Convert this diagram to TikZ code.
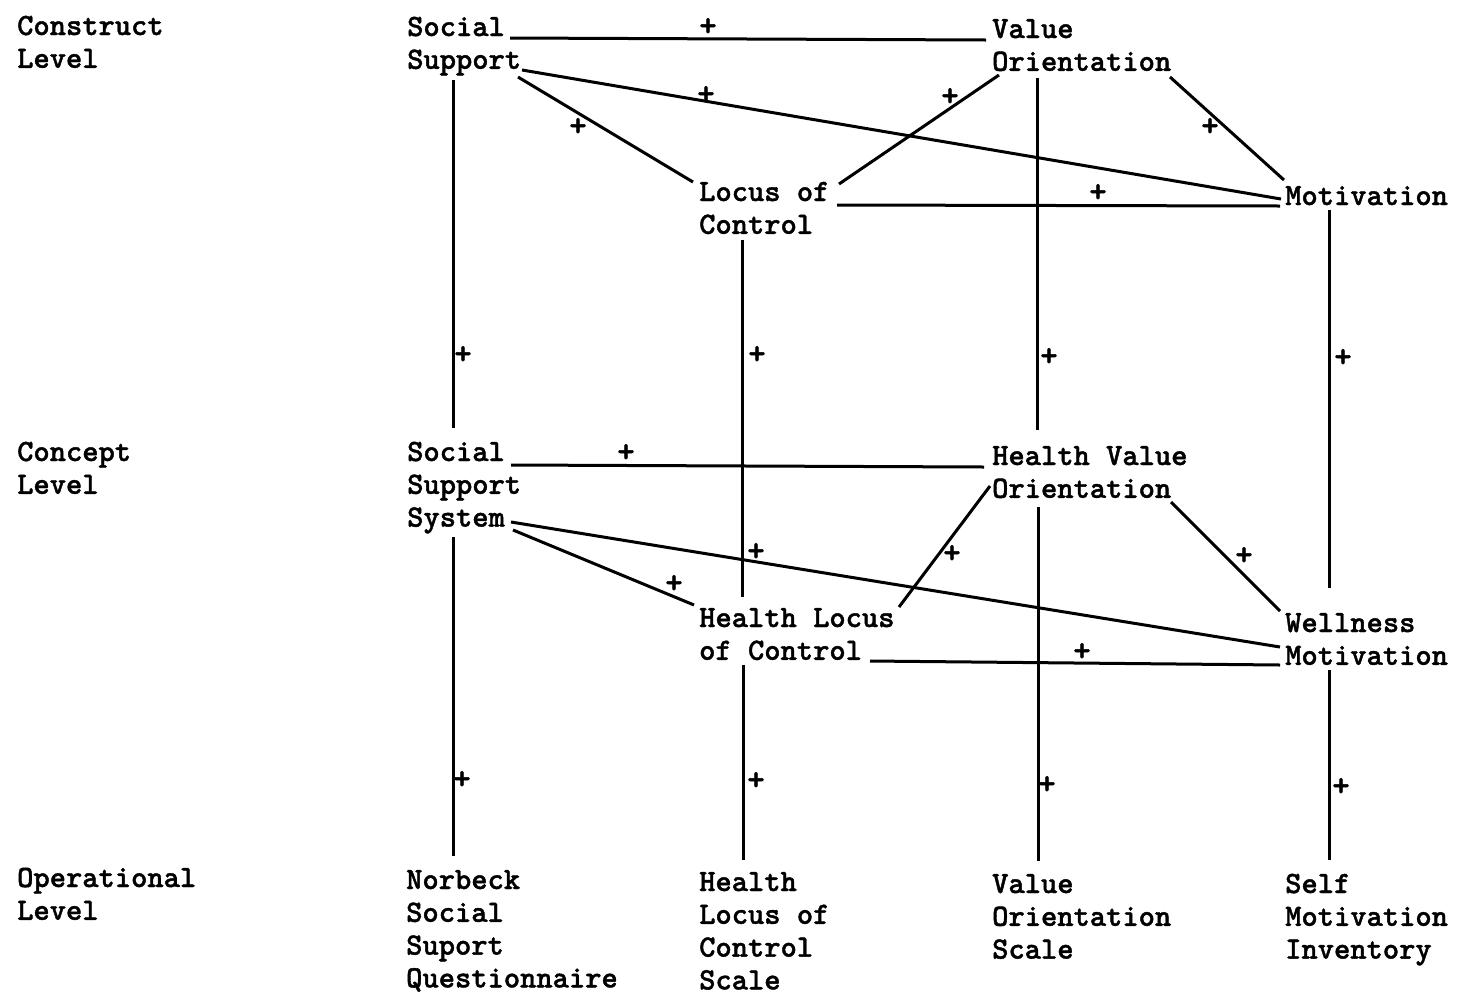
\documentclass[tikz,border=0pt]{standalone}
\usepackage{fontspec}
\newfontfamily\tw{lmmonolt10-bold.otf}[FakeBold=1.3]
\newcommand\ml[1]{\begin{tabular}[t]{@{}l@{}}#1\end{tabular}}
\begin{document}
\begin{tikzpicture}[x=1pt,y=-1pt,
  lbl/.style={anchor=base west,inner sep=0pt,font=\fontsize{31}{32.8}\selectfont\tw},
  plus/.style={inner sep=0pt,font=\fontsize{33}{34}\selectfont\tw},
  conn/.style={line width=3pt}]
\useasboundingbox[fill=white] (0,0) rectangle (1457,994);
% level labels
\node[lbl] (L1) at (17,35) {\ml{Construct\\Level}};
\node[lbl] (L2) at (17,461) {\ml{Concept\\Level}};
\node[lbl] (L3) at (17,887) {\ml{Operational\\Level}};
% construct level
\node[lbl] (ss) at (407,36) {\ml{Social\\Support}};
\node[lbl] (vo) at (992,38) {\ml{Value\\Orientation}};
\node[lbl] (lc) at (699,201) {\ml{Locus of\\Control}};
\node[lbl] (mo) at (1285,205) {\ml{Motivation}};
% concept level
\node[lbl] (sss) at (407,461) {\ml{Social\\Support\\System}};
\node[lbl] (hvo) at (992,465) {\ml{Health Value\\Orientation}};
\node[lbl] (hlc) at (699,627) {\ml{Health Locus\\of Control}};
\node[lbl] (wm) at (1285,632) {\ml{Wellness\\Motivation}};
% operational level
\node[lbl] (nb) at (406,889) {\ml{Norbeck\\Social\\Suport\\Questionnaire}};
\node[lbl] (hl) at (699,891) {\ml{Health\\Locus of\\Control\\Scale}};
\node[lbl] (vs) at (992,893) {\ml{Value\\Orientation\\Scale}};
\node[lbl] (sm) at (1285,893) {\ml{Self\\Motivation\\Inventory}};
% construct connectors
\draw[conn] ([shift={(103,2)}]ss.base west) -- ([shift={(-6,2)}]vo.base west);
\draw[conn] ([shift={(115,34)}]ss.base west) -- ([shift={(-4,-6)}]mo.base west);
\draw[conn] ([shift={(111,41)}]ss.base west) -- ([shift={(-6,-19)}]lc.base west);
\draw[conn] ([shift={(7,37)}]vo.base west) -- ([shift={(140,-17)}]lc.base west);
\draw[conn] ([shift={(178,39)}]vo.base west) -- ([shift={(-1,-25)}]mo.base west);
\draw[conn] ([shift={(138,4)}]lc.base west) -- ([shift={(-5,1)}]mo.base west);
% construct to concept
\draw[conn] ([shift={(46,44)}]ss.base west) -- ([shift={(46,-33)}]sss.base west);
\draw[conn] ([shift={(43,39)}]lc.base west) -- ([shift={(43,-30)}]hlc.base west);
\draw[conn] ([shift={(45,40)}]vo.base west) -- ([shift={(45,-35)}]hvo.base west);
\draw[conn] ([shift={(44,5)}]mo.base west) -- ([shift={(44,-44)}]wm.base west);
% concept connectors
\draw[conn] ([shift={(104,4)}]sss.base west) -- ([shift={(-8,2)}]hvo.base west);
\draw[conn] ([shift={(104,61)}]sss.base west) -- ([shift={(-5,15)}]wm.base west);
\draw[conn] ([shift={(106,69)}]sss.base west) -- ([shift={(-5,-22)}]hlc.base west);
\draw[conn] ([shift={(-2,21)}]hvo.base west) -- ([shift={(200,-20)}]hlc.base west);
\draw[conn] ([shift={(179,37)}]hvo.base west) -- ([shift={(-5,-21)}]wm.base west);
\draw[conn] ([shift={(171,34)}]hlc.base west) -- ([shift={(-5,33)}]wm.base west);
% concept to operational
\draw[conn] ([shift={(46,76)}]sss.base west) -- ([shift={(47,-33)}]nb.base west);
\draw[conn] ([shift={(44,38)}]hlc.base west) -- ([shift={(44,-31)}]hl.base west);
\draw[conn] ([shift={(46,42)}]hvo.base west) -- ([shift={(46,-32)}]vs.base west);
\draw[conn] ([shift={(44,38)}]wm.base west) -- ([shift={(44,-33)}]sm.base west);
% plus signs
\node[plus] (p1) at (708,27) {+};
\node[plus] (p2) at (706,95) {+};
\node[plus] (p3) at (578,127) {+};
\node[plus] (p4) at (950,97) {+};
\node[plus] (p5) at (1210,127) {+};
\node[plus] (p6) at (1098,193) {+};
\node[plus] (p7) at (463,355) {+};
\node[plus] (p8) at (757,355) {+};
\node[plus] (p9) at (1049,357) {+};
\node[plus] (p10) at (1343,358) {+};
\node[plus] (p11) at (626,453) {+};
\node[plus] (p12) at (756,552) {+};
\node[plus] (p13) at (674,584) {+};
\node[plus] (p14) at (952,554) {+};
\node[plus] (p15) at (1244,556) {+};
\node[plus] (p16) at (1082,652) {+};
\node[plus] (p17) at (462,780) {+};
\node[plus] (p18) at (756,781) {+};
\node[plus] (p19) at (1047,785) {+};
\node[plus] (p20) at (1341,787) {+};
\end{tikzpicture}
\end{document}
